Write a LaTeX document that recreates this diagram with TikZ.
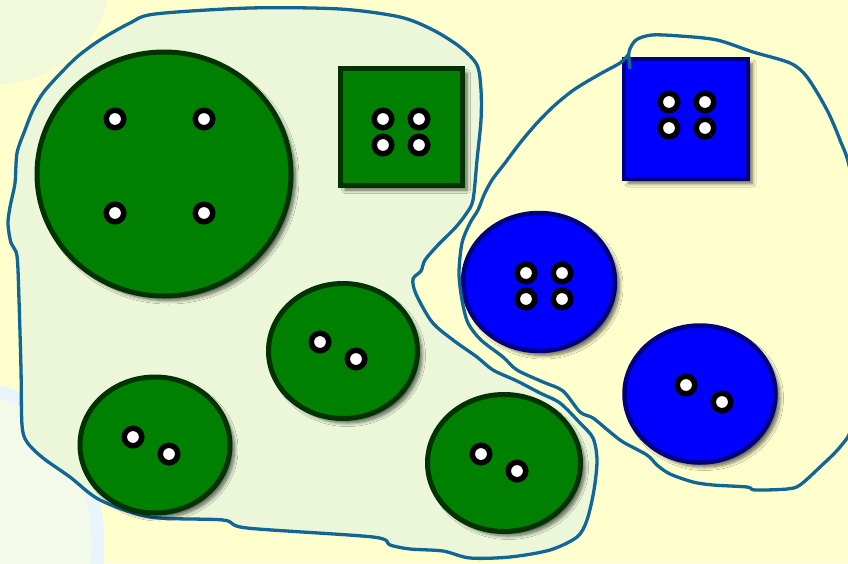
\documentclass[tikz,border=0pt]{standalone}
\usepackage{tikz}
\usetikzlibrary{shapes.geometric,shadows.blur,positioning}
\definecolor{bgyellow}{RGB}{255,255,206}
\definecolor{blobfill}{RGB}{235,247,216}
\definecolor{glowfill}{RGB}{242,249,218}
\definecolor{ringblue}{RGB}{233,244,253}
\definecolor{ringfill}{RGB}{244,250,233}
\definecolor{lineblue}{RGB}{18,102,150}
\definecolor{btngreen}{RGB}{0,128,0}
\definecolor{btngreenrim}{RGB}{0,51,0}
\definecolor{btnblue}{RGB}{0,0,255}
\definecolor{btnbluerim}{RGB}{0,0,128}
\tikzset{
  btn/.style={draw, line width=5pt, inner sep=0pt,
              blur shadow={shadow xshift=4.5pt, shadow yshift=-4.5pt,
                           shadow blur radius=3.5pt, shadow blur steps=8,
                           shadow opacity=60}},
  gbtn/.style={btn, fill=btngreen, draw=btngreenrim},
  bbtn/.style={btn, fill=btnblue, draw=btnbluerim, line width=4.5pt},
  hole/.style={circle, draw=black, fill=white, line width=5.5pt,
               minimum size=17.5pt, inner sep=0pt},
  lasso/.style={draw=lineblue, line width=3.3pt, line join=round, line cap=round}
}
\begin{document}
\begin{tikzpicture}[x=1pt, y=-1pt]
\useasboundingbox (0,0) rectangle (848,563);
\clip (0,0) rectangle (848,563);
\fill[bgyellow] (0,0) rectangle (848,563);
\fill[glowfill] (-10,-20) ellipse [x radius=120, y radius=105];
\draw[line width=13pt, draw=ringblue, fill=ringfill] (-20,545) ellipse [x radius=118, y radius=155];
\path[lasso, fill=blobfill] plot[smooth cycle, tension=0.5] coordinates {
  (155,14) (250,8) (340,9) (400,17) (433,30) (460,47) (477,65) (481,90)
  (481,120) (477,160) (473,200) (466,214) (455,228) (438,245) (425,260)
  (421,271) (413,279) (416,294) (432,322) (453,340) (477,357) (493,370)
  (517,381) (540,393) (560,403) (580,423) (593,438) (597,460) (594,490)
  (587,520) (577,537) (550,550) (510,557) (470,558) (443,551) (410,549)
  (390,545) (373,537) (247,528) (223,520) (150,517) (100,500) (70,477)
  (43,458) (27,442) (22,425) (21,370) (19,300) (17,256) (11,243) (8,224)
  (10,207) (15,183) (17,153) (25,130) (33,110) (43,93) (57,77) (77,57)
  (100,40) (130,23)};

\node[gbtn, ellipse, minimum width=254pt, minimum height=244pt] (gbig) at (164,174) {};
\node[gbtn, rectangle, minimum width=122pt, minimum height=117pt] (gsq) at (401.5,127) {};
\node[gbtn, ellipse, minimum width=149pt, minimum height=135pt] (gmid) at (343,351) {};
\node[gbtn, ellipse, minimum width=150pt, minimum height=136pt] (glow) at (155,445) {};
\node[gbtn, ellipse, minimum width=153pt, minimum height=137pt] (gright) at (504,463) {};
\node[bbtn, rectangle, minimum width=124pt, minimum height=120pt] (bsq) at (686,119) {};
\node[bbtn, ellipse, minimum width=152pt, minimum height=138pt] (bup) at (539,282) {};
\node[bbtn, ellipse, minimum width=151pt, minimum height=137pt] (blow) at (700,394) {};

\node[hole] (gbig1) at (115,119) {};
\node[hole] (gbig2) at (204,119) {};
\node[hole] (gbig3) at (115,213) {};
\node[hole] (gbig4) at (204,213) {};
\node[hole] (gsq1) at (383,119) {};
\node[hole] (gsq2) at (419,119) {};
\node[hole] (gsq3) at (383,145) {};
\node[hole] (gsq4) at (419,145) {};
\node[hole] (gmid1) at (320,342) {};
\node[hole] (gmid2) at (356,359) {};
\node[hole] (glow1) at (133,437) {};
\node[hole] (glow2) at (169,454) {};
\node[hole] (gright1) at (481,454) {};
\node[hole] (gright2) at (517,471) {};
\node[hole] (bsq1) at (669,102) {};
\node[hole] (bsq2) at (705,102) {};
\node[hole] (bsq3) at (669,128) {};
\node[hole] (bsq4) at (705,128) {};
\node[hole] (bup1) at (526,273) {};
\node[hole] (bup2) at (562,273) {};
\node[hole] (bup3) at (526,299) {};
\node[hole] (bup4) at (562,299) {};
\node[hole] (blow1) at (686,385) {};
\node[hole] (blow2) at (722,402) {};

\draw[lasso] plot[smooth, tension=0.5] coordinates {
  (630,68) (629,52) (636,40) (652,35) (680,36) (717,40) (753,52) (790,63)
  (807,77) (827,110) (840,140) (850,170) (860,250) (860,350) (852,425)
  (840,447) (820,467) (800,485) (787,489) (755,490) (747,487) (713,485)
  (693,482) (670,474) (657,465) (647,455) (623,442) (610,432) (593,418)
  (580,412) (563,391) (543,382) (517,370) (503,357) (481,340) (468,323)
  (462,300) (459,273) (462,243) (470,223) (478,210) (484,195) (492,180)
  (505,163) (520,143) (537,123) (555,105) (575,89) (600,74) (620,63)
  (628,55)};
\end{tikzpicture}
\end{document}
